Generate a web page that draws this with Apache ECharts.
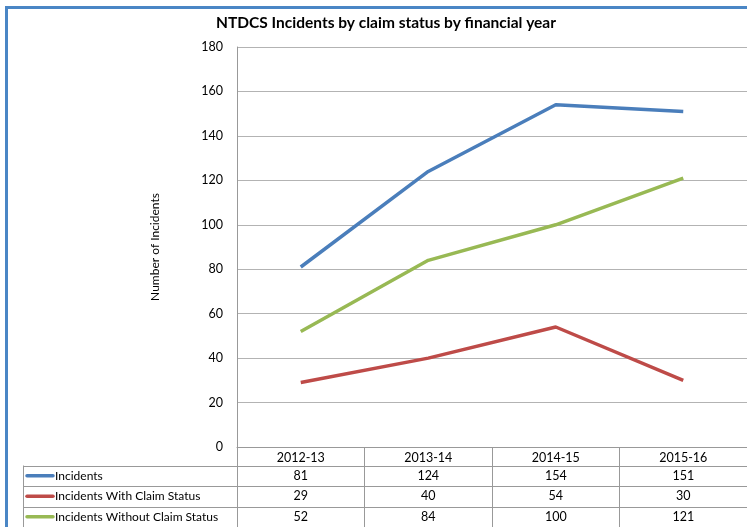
<!DOCTYPE html>
<html>
<head>
<meta charset="utf-8">
<script src="https://cdn.jsdelivr.net/npm/echarts@6/dist/echarts.min.js"></script>
<style>
html,body{margin:0;padding:0;background:#fff;}
#c{width:747px;height:527px;}
</style>
</head>
<body>
<div id="c"></div>
<script>
const categories = ['2012-13', '2013-14', '2014-15', '2015-16'];
const seriesNames = ['Incidents', 'Incidents With Claim Status', 'Incidents Without Claim Status'];
const incidents = [81, 124, 154, 151];
const withClaim = [29, 40, 54, 30];
const withoutClaim = [52, 84, 100, 121];
const yTicks = [0, 20, 40, 60, 80, 100, 120, 140, 160, 180];
const colors = ['#4a7ebb', '#be4b48', '#98b954'];

const seriesValues = [incidents, withClaim, withoutClaim];
const FONT = 'Lato';
const chart = echarts.init(document.getElementById('c'), null, {renderer: 'canvas'});

const gridTop = 47, gridH = 400, gridLeft = 237, gridW = 512;

const baseOption = {
  animation: false,
  title: {
    text: 'NTDCS Incidents by claim status by financial year',
    left: 381, top: 10, textAlign: 'center',
    textStyle: {fontFamily: FONT, fontSize: 15.5, fontWeight: 'bold', color: '#000'}
  },
  grid: {left: gridLeft, top: gridTop, width: gridW, height: gridH},
  xAxis: {
    type: 'category', data: categories, boundaryGap: true,
    axisLine: {lineStyle: {color: '#999', width: 1}},
    axisTick: {show: true, length: 80, lineStyle: {color: '#999'}},
    axisLabel: {margin: 4, fontFamily: FONT, fontSize: 12.5, color: '#000'}
  },
  yAxis: {
    type: 'value', min: yTicks[0], max: yTicks[yTicks.length - 1], interval: yTicks[1] - yTicks[0],
    name: 'Number of Incidents', nameLocation: 'middle', nameRotate: 90, nameGap: 76,
    nameTextStyle: {fontFamily: FONT, fontSize: 12, color: '#000'},
    axisLine: {show: true, lineStyle: {color: '#999'}},
    axisTick: {show: false},
    axisLabel: {margin: 14, fontFamily: FONT, fontSize: 12.5, color: '#000'},
    splitLine: {lineStyle: {color: '#b3b3b3'}}
  },
  series: seriesNames.map((n, i) => ({
    name: n, type: 'line', data: seriesValues[i], symbol: 'none',
    lineStyle: {color: colors[i], width: 3.5}, itemStyle: {color: colors[i]}
  }))
};
chart.setOption(baseOption);

// Data table below plot
const rowTops = [465.5, 486, 506.5];
const rowH = 20.5;
const g = [];
const lineColor = '#999';
const tableBottom = 530;
// frame
g.push({type: 'line', shape: {x1: 6.5, y1: 6, x2: 6.5, y2: 527}, style: {stroke: '#4a86c5', lineWidth: 3}});
g.push({type: 'line', shape: {x1: 5, y1: 7.5, x2: 747, y2: 7.5}, style: {stroke: '#4a86c5', lineWidth: 3}});
// horizontal lines
rowTops.forEach(function (t) {
  g.push({type: 'line', shape: {x1: 23, y1: Math.round(t) + 0.5, x2: 747, y2: Math.round(t) + 0.5}, style: {stroke: lineColor, lineWidth: 1}});
});
// left column vertical line
g.push({type: 'line', shape: {x1: 23.5, y1: rowTops[0], x2: 23.5, y2: tableBottom}, style: {stroke: lineColor, lineWidth: 1}});
seriesNames.forEach(function (n, i) {
  const cy = rowTops[i] + rowH / 2;
  g.push({type: 'line', shape: {x1: 27, y1: cy, x2: 53, y2: cy}, style: {stroke: colors[i], lineWidth: 3.5, lineCap: 'round'}});
  g.push({type: 'text', x: 55, y: cy, style: {text: n, fontFamily: FONT, fontSize: 12, fill: '#000', textVerticalAlign: 'middle', textAlign: 'left'}});
  seriesValues[i].forEach(function (v, j) {
    const px = chart.convertToPixel({xAxisIndex: 0}, categories[j]);
    g.push({type: 'text', x: px, y: cy, style: {text: String(v), fontFamily: FONT, fontSize: 12.5, fill: '#000', textVerticalAlign: 'middle', textAlign: 'center'}});
  });
});
chart.setOption({graphic: {elements: g}});
</script>
</body>
</html>
